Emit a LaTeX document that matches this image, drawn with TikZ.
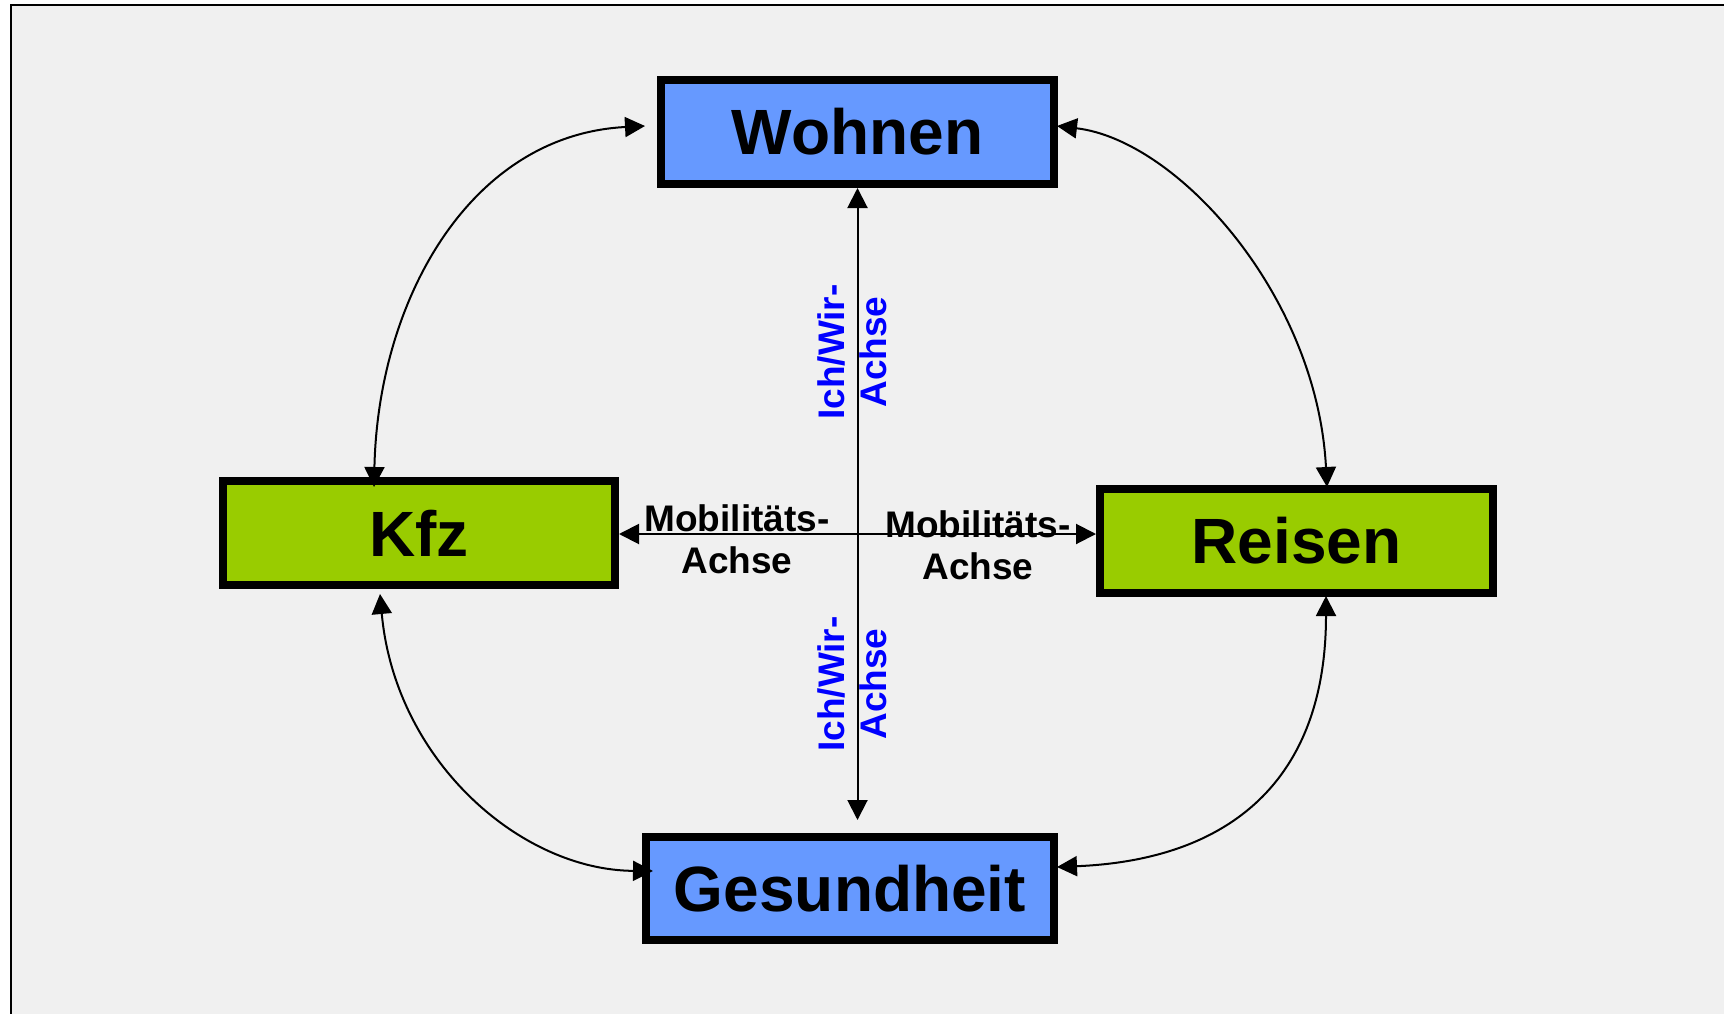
\documentclass[tikz,border=0pt]{standalone}
\usepackage{fontspec}
\setmainfont{Liberation Sans}
\usetikzlibrary{arrows.meta,calc}
\definecolor{bgcol}{HTML}{F0F0F0}
\definecolor{boxblue}{HTML}{6699FF}
\definecolor{boxgreen}{HTML}{99CC00}
\definecolor{axisblue}{HTML}{0000FF}
\tikzset{
  box/.style={draw=black, line width=8pt, rectangle, inner sep=0pt,
    font=\fontsize{64}{70}\selectfont\bfseries},
  bluebox/.style={box, fill=boxblue},
  greenbox/.style={box, fill=boxgreen},
  conn/.style={line width=2pt, {Triangle[length=20pt,width=20pt]}-{Triangle[length=20pt,width=20pt]}},
  axlabel/.style={align=center, inner sep=0pt, font=\fontsize{37}{42}\selectfont\bfseries},
  ichlabel/.style={axlabel, text=axisblue, rotate=90}
}
\begin{document}
\begin{tikzpicture}[x=1pt,y=-1pt]
\useasboundingbox (0,0) rectangle (1724,1014);
\fill[white] (0,0) rectangle (1724,1014);
\fill[bgcol] (11,5) rectangle (1724,1014);
\draw[line width=2pt] (11,1014) -- (11,5) -- (1724,5);

\node[bluebox, minimum width=393pt, minimum height=104pt] (wohnen) at (857.5,132) {Wohnen};
\node[greenbox, minimum width=392pt, minimum height=104pt] (kfz) at (419,533) {Kfz};
\node[greenbox, minimum width=393pt, minimum height=104pt] (reisen) at (1296.5,541) {Reisen};
\node[bluebox, minimum width=408pt, minimum height=103pt] (gesund) at (850,888.5) {Gesundheit};

% axes
\coordinate (vbot) at ($(wohnen.south |- gesund.north)+(0,-13)$);
\coordinate (hleft) at ($(kfz.east)+(0,1)$);
\coordinate (hright) at (hleft -| reisen.west);
\draw[conn] (wohnen.south) -- (vbot);
\draw[conn] (hleft) -- (hright);

% curved connectors
\draw[conn] ($(kfz.north)+(-45,10)$) .. controls +(4,-187) and +(-175,9) .. ($(wohnen.west)+(-12,-6)$);
\draw[conn] ($(wohnen.east)+(-1,-6)$) .. controls +(120,14) and +(-10,-192) .. ($(reisen.north)+(30.5,2)$);
\draw[conn] ($(kfz.south)+(-39,5)$) .. controls +(15,166) and +(-133,-1) .. ($(gesund.west)+(11,-17.5)$);
\draw[conn] ($(reisen.south)+(29.5,-1)$) .. controls +(0,184) and +(173,-7) .. ($(gesund.east)+(-1,-21.5)$);

% labels
\node[ichlabel] (ich1) at (852,352) {Ich/Wir-\\Achse};
\node[ichlabel] (ich2) at (852,684) {Ich/Wir-\\Achse};
\node[axlabel] (mob1) at (737,539.5) {Mobilitäts-\\Achse};
\node[axlabel] (mob2) at (978,545) {Mobilitäts-\\Achse};
\end{tikzpicture}
\end{document}
